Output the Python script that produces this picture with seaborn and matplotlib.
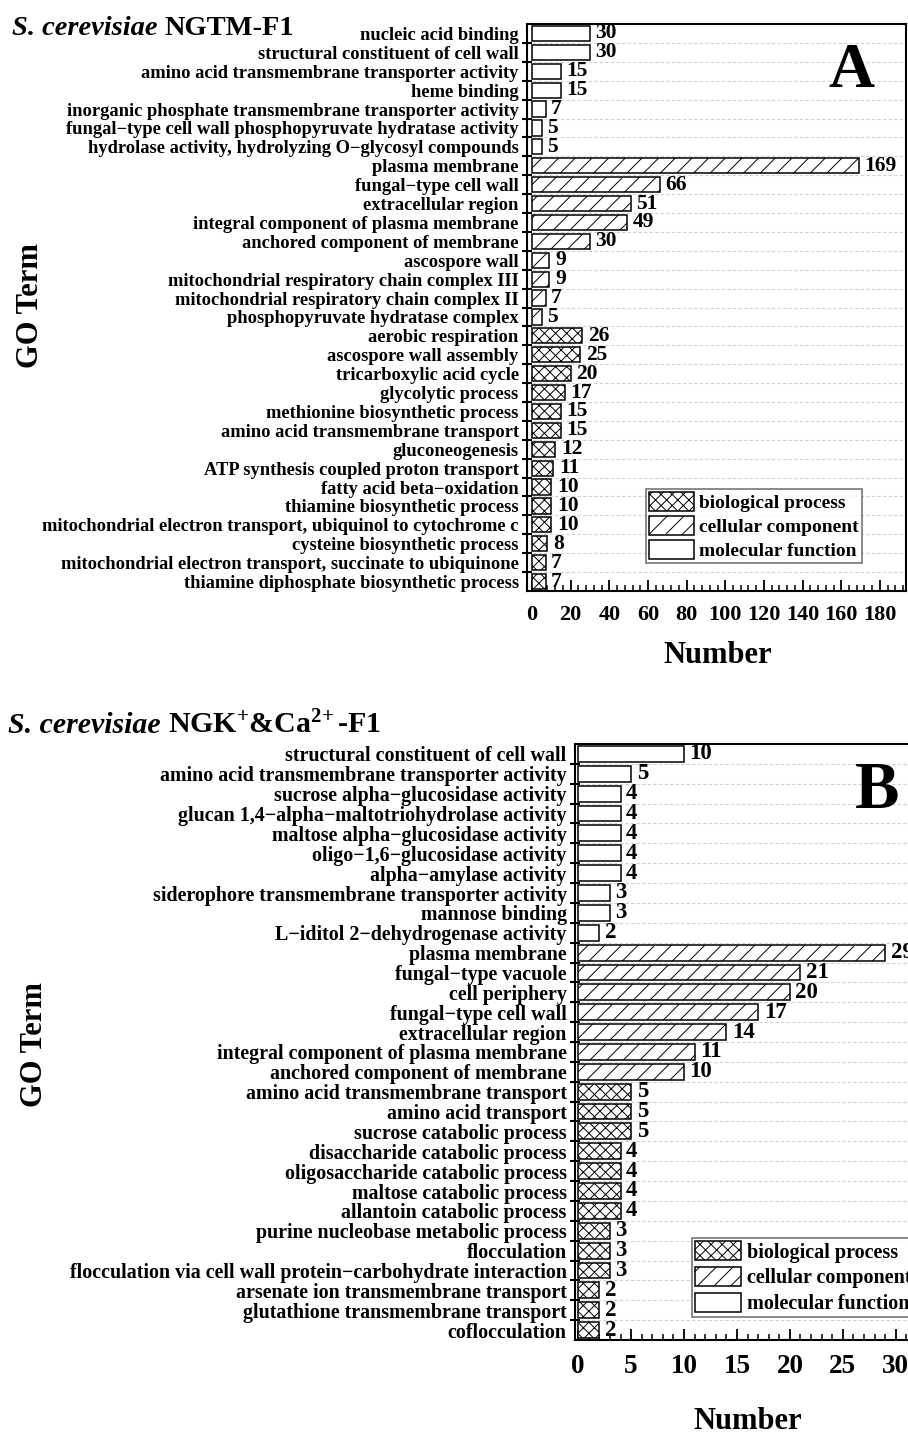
import numpy as np
import pandas as pd
import matplotlib
matplotlib.use("Agg")
import matplotlib.pyplot as plt
import seaborn as sns
from matplotlib.patches import Patch
from matplotlib.ticker import MultipleLocator, AutoMinorLocator

# ---------------- data ----------------
cats = ["biological process", "cellular component", "molecular function"]

a_mf_terms = ["nucleic acid binding", "structural constituent of cell wall",
              "amino acid transmembrane transporter activity", "heme binding",
              "inorganic phosphate transmembrane transporter activity",
              "fungal\u2212type cell wall phosphopyruvate hydratase activity",
              "hydrolase activity, hydrolyzing O\u2212glycosyl compounds"]
a_mf_vals = [30, 30, 15, 15, 7, 5, 5]
a_cc_terms = ["plasma membrane", "fungal\u2212type cell wall", "extracellular region",
              "integral component of plasma membrane", "anchored component of membrane",
              "ascospore wall", "mitochondrial respiratory chain complex III",
              "mitochondrial respiratory chain complex II", "phosphopyruvate hydratase complex"]
a_cc_vals = [169, 66, 51, 49, 30, 9, 9, 7, 5]
a_bp_terms = ["aerobic respiration", "ascospore wall assembly", "tricarboxylic acid cycle",
              "glycolytic process", "methionine biosynthetic process",
              "amino acid transmembrane transport", "gluconeogenesis",
              "ATP synthesis coupled proton transport", "fatty acid beta\u2212oxidation",
              "thiamine biosynthetic process",
              "mitochondrial electron transport, ubiquinol to cytochrome c",
              "cysteine biosynthetic process",
              "mitochondrial electron transport, succinate to ubiquinone",
              "thiamine diphosphate biosynthetic process"]
a_bp_vals = [26, 25, 20, 17, 15, 15, 12, 11, 10, 10, 10, 8, 7, 7]

b_mf_terms = ["structural constituent of cell wall", "amino acid transmembrane transporter activity",
              "sucrose alpha\u2212glucosidase activity",
              "glucan 1,4\u2212alpha\u2212maltotriohydrolase activity",
              "maltose alpha\u2212glucosidase activity", "oligo\u22121,6\u2212glucosidase activity",
              "alpha\u2212amylase activity", "siderophore transmembrane transporter activity",
              "mannose binding", "L\u2212iditol 2\u2212dehydrogenase activity"]
b_mf_vals = [10, 5, 4, 4, 4, 4, 4, 3, 3, 2]
b_cc_terms = ["plasma membrane", "fungal\u2212type vacuole", "cell periphery",
              "fungal\u2212type cell wall", "extracellular region",
              "integral component of plasma membrane", "anchored component of membrane"]
b_cc_vals = [29, 21, 20, 17, 14, 11, 10]
b_bp_terms = ["amino acid transmembrane transport", "amino acid transport",
              "sucrose catabolic process", "disaccharide catabolic process",
              "oligosaccharide catabolic process", "maltose catabolic process",
              "allantoin catabolic process", "purine nucleobase metabolic process",
              "flocculation",
              "flocculation via cell wall protein\u2212carbohydrate interaction",
              "arsenate ion transmembrane transport", "glutathione transmembrane transport",
              "coflocculation"]
b_bp_vals = [5, 5, 5, 4, 4, 4, 4, 3, 3, 3, 2, 2, 2]

species = "S. cerevisiae"
strain_a = "NGTM-F1"
strain_b = r"NGK$^{+}$&Ca$^{2\!+}$-F1"

# ---------------- style ----------------
sns.set_style("ticks")
plt.rcParams["font.family"] = ["Liberation Serif", "DejaVu Serif"]
plt.rcParams["font.weight"] = "bold"
plt.rcParams["text.color"] = "black"
plt.rcParams["axes.labelcolor"] = "black"
plt.rcParams["xtick.color"] = "black"
plt.rcParams["ytick.color"] = "black"
plt.rcParams["mathtext.fontset"] = "custom"
plt.rcParams["mathtext.rm"] = "Liberation Serif:bold"
plt.rcParams["mathtext.bf"] = "Liberation Serif:bold"
plt.rcParams["mathtext.it"] = "Liberation Serif:italic:bold"
plt.rcParams["hatch.linewidth"] = 0.7
plt.rcParams["axes.linewidth"] = 1.5

hatch_map = {"biological process": "xxx", "cellular component": "//", "molecular function": ""}

W, H = 908, 1433
fig = plt.figure(figsize=(W / 100, H / 100), dpi=100)


def make_df(mf_t, mf_v, cc_t, cc_v, bp_t, bp_v):
    terms = mf_t + cc_t + bp_t
    vals = mf_v + cc_v + bp_v
    cat = (["molecular function"] * len(mf_t) + ["cellular component"] * len(cc_t)
           + ["biological process"] * len(bp_t))
    return pd.DataFrame({"Term": terms, "Number": vals, "Category": cat})


def title_text(xy, strain, fs):
    t1 = fig.text(xy[0] / W, 1 - xy[1] / H, species, fontsize=fs, fontweight="bold",
                  fontstyle="italic", ha="left", va="baseline")
    fig.canvas.draw()
    bb = t1.get_window_extent()
    fig.text((bb.x1 + 0.25 * fs * 100 / 72) / W, 1 - xy[1] / H, strain, fontsize=fs,
             fontweight="bold", ha="left", va="baseline")


def panel(rect, df, xlim, major, ylab_fs, val_fs, tick_fs, strain, title_xy, title_fs,
          letter, letter_xy, letter_fs, leg_xy, leg_fs, glabel_xy, nlabel_xy):
    ax = fig.add_axes(rect)
    terms = list(df["Term"])
    sns.barplot(data=df, x="Number", y="Term", hue="Category", order=terms,
                hue_order=cats, dodge=False, width=0.8,
                palette={c: "white" for c in cats}, edgecolor="black",
                linewidth=1.1, legend=False, ax=ax, zorder=3)
    for p in ax.patches:
        idx = int(round(p.get_y() + p.get_height() / 2))
        if 0 <= idx < len(terms):
            p.set_hatch(hatch_map[df["Category"].iloc[idx]])
    for cont in ax.containers:
        labs = [f"{v:g}" if v > 0 else "" for v in cont.datavalues]
        ax.bar_label(cont, labels=labs, padding=4, fontsize=val_fs, fontweight="bold")
    n = len(terms)
    ax.set_ylim(n - 0.5, -0.5)
    ax.set_xlim(*xlim)
    ax.set_yticks(np.arange(0.5, n - 0.5, 1))
    ax.set_yticklabels([])
    ax.set_yticks(np.arange(n), labels=terms, minor=True)
    ax.tick_params(axis="y", which="major", direction="inout", length=7, width=1.5)
    ax.tick_params(axis="y", which="minor", length=0, pad=6, labelsize=ylab_fs)
    ax.xaxis.set_major_locator(MultipleLocator(major))
    ax.xaxis.set_minor_locator(AutoMinorLocator(5))
    ax.tick_params(axis="x", which="major", direction="in", length=8, width=1.3,
                   labelsize=tick_fs, pad=10)
    ax.tick_params(axis="x", which="minor", direction="in", length=4.5, width=1.1)
    ax.grid(axis="y", which="major", linestyle=(0, (3, 2)), color="#d2d2d2", linewidth=0.8)
    ax.set_axisbelow(True)
    for s in ax.spines.values():
        s.set_visible(True)
        s.set_linewidth(1.5)
        s.set_color("black")
    ax.set_xlabel("Number", fontsize=22, fontweight="bold")
    ax.xaxis.label.set_verticalalignment("center")
    ax.xaxis.set_label_coords(*nlabel_xy)
    ax.set_ylabel("GO Term", fontsize=22, fontweight="bold")
    ax.yaxis.label.set_verticalalignment("center")
    ax.yaxis.set_label_coords(*glabel_xy)
    title_text(title_xy, strain, title_fs)
    fig.text(letter_xy[0] / W, 1 - letter_xy[1] / H, letter, fontsize=letter_fs,
             fontweight="bold", ha="center", va="baseline")
    handles = [Patch(facecolor="white", edgecolor="black", hatch=hatch_map[c], linewidth=1.1)
               for c in cats]
    leg = fig.legend(handles, cats, loc="upper left",
                     bbox_to_anchor=(leg_xy[0] / W, 1 - leg_xy[1] / H),
                     fontsize=leg_fs, frameon=True, fancybox=False, handlelength=2.3,
                     handleheight=1.1, labelspacing=0.22, handletextpad=0.3,
                     borderpad=0.15, borderaxespad=0)
    leg.get_frame().set_edgecolor("#555555")
    leg.get_frame().set_linewidth(1.2)
    return ax


df_a = make_df(a_mf_terms, a_mf_vals, a_cc_terms, a_cc_vals, a_bp_terms, a_bp_vals)
df_b = make_df(b_mf_terms, b_mf_vals, b_cc_terms, b_cc_vals, b_bp_terms, b_bp_vals)

panel([527 / W, 1 - 591 / H, 379 / W, 567 / H], df_a, (-2.6, 193.5), 20,
      13.3, 15.5, 16, strain_a, (12, 35), 20.5, "A", (851, 87), 46, (646, 489), 14,
      (-1.311, 0.504), (0.504, -0.113))
panel([575 / W, 1 - 1340 / H, 379 / W, 596 / H], df_b, (-0.3, 35.5), 5,
      14.4, 16.5, 19.5, strain_b, (8, 733), 21.5, "B", (877, 808), 48, (692, 1238), 14.5,
      (-1.425, 0.495), (0.456, -0.136))

fig.savefig("out.png", dpi=100)
